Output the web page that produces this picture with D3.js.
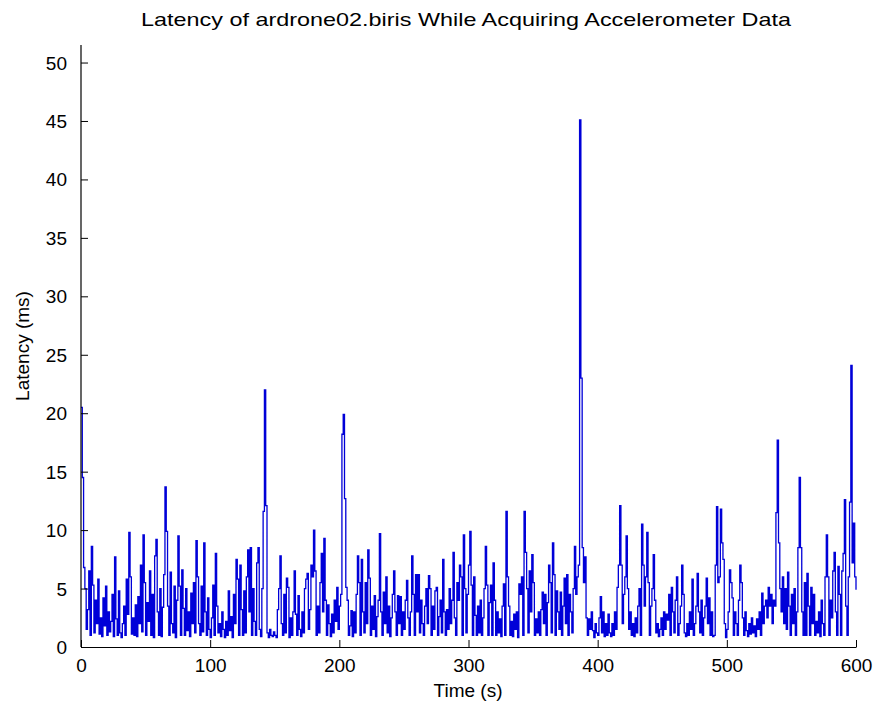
<!DOCTYPE html>
<html>
<head>
<meta charset="utf-8">
<script src="https://cdn.jsdelivr.net/npm/d3@7/dist/d3.min.js"></script>
<style>
  html, body { margin: 0; padding: 0; background: #ffffff; }
  svg { display: block; }
  text { font-family: "Liberation Sans", Arial, Helvetica, sans-serif; fill: #000; }
</style>
</head>
<body>
<svg id="chart" width="878" height="714"></svg>
<script>
// ---- data (latency in ms, one sample per second, t = 0..600) ----
const latency = [
  20.5, 14.5, 6.8, 5.0, 1.5, 3.2, 6.5, 1.0, 8.6, 5.3,
  1.2, 4.0, 2.0, 5.8, 1.1, 2.5, 0.9, 4.2, 1.8, 5.2,
  1.0, 3.0, 1.3, 2.2, 4.5, 0.9, 7.7, 2.4, 1.0, 4.8,
  1.2, 0.8, 2.0, 3.5, 1.0, 5.8, 2.8, 9.8, 6.0, 1.1,
  2.5, 1.0, 3.6, 0.9, 4.3, 2.0, 7.0, 1.3, 9.6, 5.5,
  1.0, 3.8, 2.2, 6.5, 1.0, 4.5, 0.8, 7.8, 9.2, 3.0,
  1.0, 5.0, 0.9, 3.4, 6.2, 13.7, 9.9, 3.5, 1.0, 6.4,
  2.0, 1.2, 5.2, 0.8, 4.0, 9.5, 5.2, 1.0, 6.6, 3.3,
  1.0, 5.0, 1.4, 3.0, 0.9, 4.6, 2.0, 5.5, 1.2, 9.1,
  6.0, 2.0, 1.0, 5.2, 1.3, 8.9, 3.0, 1.0, 4.2, 1.5,
  0.8, 2.5, 5.3, 1.0, 8.0, 3.5, 1.2, 2.0, 0.9, 3.0,
  1.5, 0.8, 2.2, 1.0, 4.8, 1.4, 2.6, 0.8, 4.5, 2.0,
  7.5, 5.8, 1.0, 7.0, 3.2, 1.0, 4.8, 1.2, 6.0, 8.3,
  3.0, 8.5, 1.0, 5.0, 2.2, 1.0, 7.2, 8.5, 1.5, 0.9,
  5.0, 11.6, 22.0, 12.1, 1.2, 0.8, 1.5, 1.0, 0.9, 1.3,
  1.0, 0.8, 3.2, 5.0, 7.8, 2.0, 1.0, 4.5, 1.2, 5.9,
  5.1, 0.8, 2.5, 1.0, 3.0, 6.5, 2.8, 1.0, 4.4, 1.5,
  0.9, 3.0, 1.2, 5.0, 5.8, 6.3, 1.5, 3.2, 7.0, 6.0,
  10.0, 6.5, 1.0, 3.5, 1.2, 5.5, 8.0, 3.0, 9.3, 4.0,
  1.0, 3.6, 2.0, 0.9, 2.8, 1.2, 4.0, 2.2, 5.1, 1.5,
  3.5, 4.5, 18.2, 19.9, 12.7, 5.1, 4.0, 1.0, 1.8, 3.1,
  0.9, 3.0, 1.2, 4.5, 7.8, 5.5, 1.0, 7.5, 3.0, 1.2,
  5.5, 2.0, 8.3, 5.9, 1.0, 3.5, 1.5, 4.4, 0.9, 2.6,
  4.0, 9.7, 3.0, 1.0, 4.7, 2.0, 6.0, 1.2, 3.5, 0.9,
  2.5, 4.5, 6.5, 3.0, 1.0, 4.4, 2.0, 4.3, 1.0, 3.0,
  1.5, 4.0, 5.7, 2.5, 1.0, 3.0, 7.8, 4.5, 1.0, 6.2,
  3.0, 6.2, 1.2, 4.0, 2.0, 1.0, 3.5, 5.0, 2.0, 6.1,
  5.0, 1.0, 3.5, 1.5, 4.8, 5.1, 1.0, 2.6, 4.0, 1.2,
  7.5, 3.0, 1.0, 3.2, 1.5, 5.0, 2.0, 4.0, 8.1, 2.5,
  1.0, 5.5, 4.0, 7.0, 6.0, 1.0, 9.6, 5.0, 1.2, 4.5,
  7.0, 9.9, 5.3, 1.0, 6.0, 2.7, 1.0, 3.5, 1.2, 4.0,
  1.0, 2.5, 5.0, 8.6, 5.3, 1.0, 3.8, 5.3, 1.0, 7.2,
  4.0, 1.0, 3.0, 1.2, 2.4, 0.9, 3.5, 5.4, 1.0, 11.6,
  6.0, 3.5, 1.0, 2.2, 0.9, 2.8, 1.5, 3.0, 0.8, 5.4,
  4.5, 6.0, 1.0, 11.6, 8.1, 5.0, 1.2, 6.5, 3.0, 7.9,
  5.5, 1.0, 2.4, 1.2, 3.0, 1.0, 3.2, 4.7, 2.0, 4.5,
  1.0, 3.8, 7.0, 5.5, 1.2, 8.9, 6.2, 1.0, 4.8, 3.0,
  1.5, 4.7, 1.0, 3.5, 5.9, 2.0, 6.2, 1.0, 4.5, 3.0,
  1.2, 5.0, 8.6, 4.5, 6.0, 7.0, 45.1, 23.0, 8.5, 5.5,
  7.7, 2.5, 1.0, 2.4, 1.5, 3.0, 1.4, 0.8, 2.0, 1.2,
  1.0, 2.5, 4.3, 1.2, 3.0, 0.9, 2.0, 1.0, 2.8, 1.2,
  0.9, 2.0, 1.0, 3.0, 1.5, 5.1, 7.0, 12.1, 7.0, 2.0,
  4.5, 6.0, 9.5, 5.0, 1.5, 3.0, 1.0, 2.0, 0.9, 2.5,
  1.2, 3.5, 5.0, 1.0, 10.5, 7.0, 3.5, 6.0, 9.8, 5.5,
  1.0, 3.5, 5.0, 7.9, 4.0, 1.2, 2.0, 0.9, 1.5, 2.5,
  1.0, 3.0, 1.5, 2.8, 2.3, 4.5, 1.0, 5.1, 3.0, 1.2,
  4.0, 6.0, 1.0, 2.0, 3.5, 7.0, 4.5, 1.2, 0.9, 2.0,
  1.0, 3.0, 1.5, 5.8, 1.0, 2.0, 3.5, 6.3, 3.0, 1.2,
  4.0, 1.0, 2.5, 3.5, 5.9, 2.0, 4.2, 1.0, 3.0, 0.9,
  1.0, 7.0, 12.0, 5.5, 6.0, 11.8, 8.9, 7.5, 2.0, 0.8,
  1.5, 3.0, 6.6, 5.5, 4.2, 1.0, 3.0, 2.0, 1.0, 4.0,
  7.0, 5.5, 2.5, 1.0, 3.0, 1.4, 0.9, 2.0, 1.1, 2.5,
  1.2, 1.8, 0.9, 2.4, 1.5, 3.0, 1.0, 4.6, 2.0, 3.5,
  4.0, 2.5, 5.1, 3.5, 4.5, 2.0, 4.0, 3.5, 11.5, 17.7,
  8.9, 5.0, 3.0, 6.0, 2.0, 5.0, 1.5, 6.4, 3.5, 1.0,
  4.5, 2.0, 5.0, 1.0, 3.0, 8.5, 14.5, 8.5, 3.0, 1.0,
  5.5, 1.0, 6.3, 3.5, 1.0, 5.1, 2.0, 4.5, 1.0, 2.2,
  1.2, 3.0, 0.9, 4.0, 2.0, 1.0, 6.0, 9.6, 6.0, 1.0,
  4.0, 2.5, 6.5, 8.1, 3.0, 1.0, 6.9, 4.5, 1.0, 6.5,
  8.0, 12.6, 3.5, 1.0, 6.0, 12.4, 24.1, 7.2, 10.6, 6.0,
  4.9
];
const timeStart = 0;      // seconds
const timeStep = 1;       // seconds per sample
const xTicks = [0, 100, 200, 300, 400, 500, 600];
const yTicks = [0, 5, 10, 15, 20, 25, 30, 35, 40, 45, 50];
const xDomain = [0, 600];
const yDomain = [0, 51.5];
const titleText = "Latency of ardrone02.biris While Acquiring Accelerometer Data";
const xLabel = "Time (s)";
const yLabel = "Latency (ms)";

// ---- layout ----
const svg = d3.select("#chart");
const margin = { left: 81, right: 22, top: 45, bottom: 67 };
const W = 878, H = 714;
const x = d3.scaleLinear().domain(xDomain).range([margin.left, W - margin.right]);
const y = d3.scaleLinear().domain(yDomain).range([H - margin.bottom, margin.top]);

const points = latency.map((v, i) => ({ t: timeStart + i * timeStep, v }));

// line (dense MATLAB-style trace)
svg.append("path")
  .datum(points)
  .attr("fill", "none")
  .attr("stroke", "#0000d8")
  .attr("stroke-width", 1.3)
  .attr("stroke-linejoin", "miter")
  .attr("d", d3.line().curve(d3.curveStepAfter).x(d => x(d.t)).y(d => y(d.v)));

// axes (MATLAB style, inward ticks, no box)
const xAxis = d3.axisBottom(x).tickValues(xTicks).tickSizeInner(-7).tickSizeOuter(0).tickPadding(12).tickFormat(d3.format("d"));
const gx = svg.append("g").attr("transform", `translate(0,${y(0)})`).call(xAxis);
const yAxis = d3.axisLeft(y).tickValues(yTicks).tickSizeInner(-7).tickSizeOuter(0).tickPadding(14).tickFormat(d3.format("d"));
const gy = svg.append("g").attr("transform", `translate(${x(0)},0)`).call(yAxis);

[gx, gy].forEach(g => {
  g.select(".domain").attr("stroke", "#000").attr("stroke-width", 1.2);
  g.selectAll(".tick line").attr("stroke", "#000").attr("stroke-width", 1);
  g.selectAll(".tick text").attr("font-size", 19).attr("font-family", "Liberation Sans, Arial, sans-serif").attr("fill", "#000");
});
gy.selectAll(".tick text").attr("dy", "0.34em");

// y axis line extends to top of domain
gy.select(".domain").attr("d", `M0,${y(yDomain[1])}V${y(0)}`);

// title
svg.append("text")
  .attr("x", 466).attr("y", 26)
  .attr("text-anchor", "middle")
  .attr("font-size", 19)
  .attr("textLength", 650).attr("lengthAdjust", "spacingAndGlyphs")
  .text(titleText);

// axis labels
svg.append("text")
  .attr("x", 468).attr("y", 697)
  .attr("text-anchor", "middle")
  .attr("font-size", 19)
  .text(xLabel);

svg.append("text")
  .attr("transform", `translate(29,${(y(0) + y(yDomain[1])) / 2}) rotate(-90)`)
  .attr("text-anchor", "middle")
  .attr("font-size", 19)
  .text(yLabel);
</script>
</body>
</html>
